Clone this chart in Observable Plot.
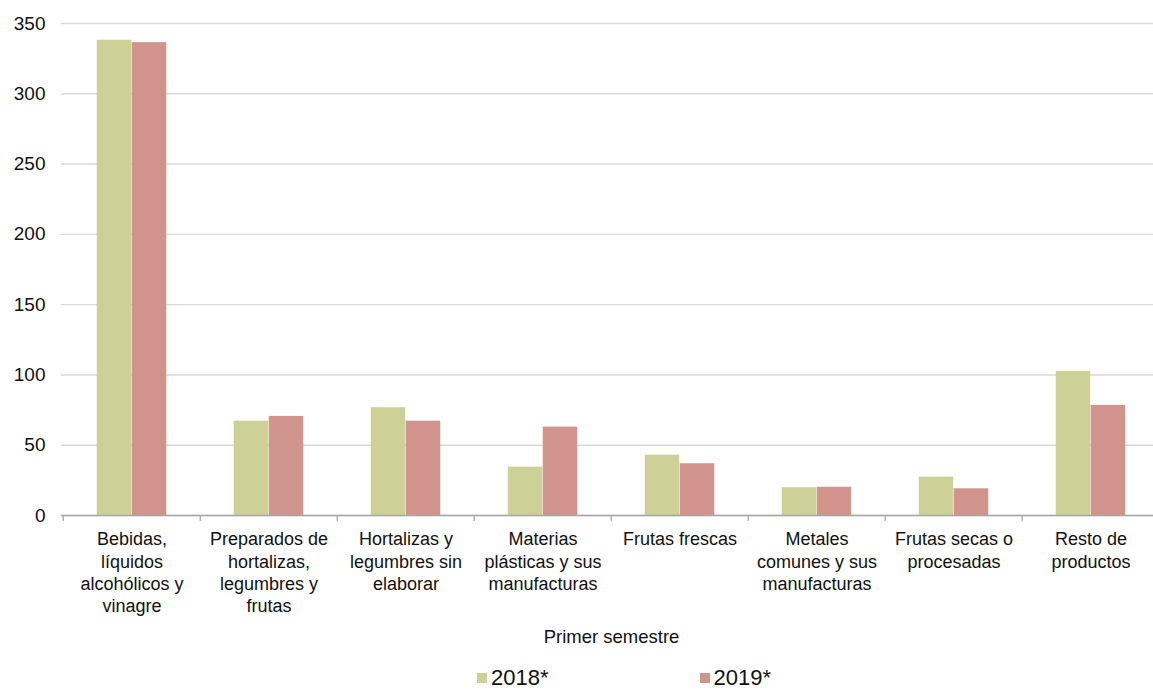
<!DOCTYPE html>
<html>
<head>
<meta charset="utf-8">
<script src="https://cdn.jsdelivr.net/npm/d3@7"></script>
<script src="https://cdn.jsdelivr.net/npm/@observablehq/plot@0.6"></script>
<style>
  html, body { margin: 0; padding: 0; background: #fff; overflow: hidden; }
  #wrap { position: relative; width: 1153px; height: 691px; font-family: "Liberation Sans", Arial, sans-serif; }
  #legend { position: absolute; left: 477px; top: 667px; height: 22px; }
  #legend .lg-swatches-wrap { min-height: 0 !important; height: 22px; align-items: center; flex-wrap: nowrap; }
  #legend .lg-swatch { margin-right: 0 !important; font-size: 22px; line-height: 22px; color: #111; }
  #legend .lg-swatch:not(:last-child) { margin-right: 151px !important; }
  #legend .lg-swatch > svg { margin-right: 4px !important; }
</style>
</head>
<body>
<div id="wrap">
  <div id="chart"></div>
  <div id="legend"></div>
</div>
<script>
const categories = [
  "Bebidas,\nlíquidos\nalcohólicos y\nvinagre",
  "Preparados de\nhortalizas,\nlegumbres y\nfrutas",
  "Hortalizas y\nlegumbres sin\nelaborar",
  "Materias\nplásticas y sus\nmanufacturas",
  "Frutas frescas",
  "Metales\ncomunes y sus\nmanufacturas",
  "Frutas secas o\nprocesadas",
  "Resto de\nproductos"
];
const years = ["2018*", "2019*"];
const values2018 = [338.1, 67.1, 76.7, 34.4, 42.9, 19.8, 27.3, 102.5];
const values2019 = [336.4, 70.5, 67.1, 62.9, 36.8, 20.1, 19.0, 78.3];
const yTicks = [0, 50, 100, 150, 200, 250, 300, 350];
const colors = ["#cdd198", "#d0948c"];
const axisTitle = "Primer semestre";

const rows2018 = categories.map((c, i) => ({cat: c, year: years[0], v: values2018[i]}));
const rows2019 = categories.map((c, i) => ({cat: c, year: years[1], v: values2019[i]}));

const W = 1153, H = 660, ML = 61, MR = -8, MT = 23, MB = H - 515;
const bw = (W - ML - MR) / categories.length;
const barW = 35;

const chart = Plot.plot({
  width: W,
  height: H,
  marginLeft: ML,
  marginRight: MR,
  marginTop: MT,
  marginBottom: MB,
  style: {fontFamily: "'Liberation Sans', Arial, sans-serif", color: "#111", background: "#fff", overflow: "hidden"},
  x: {domain: categories, padding: 0, label: null},
  y: {domain: [0, 350], label: null},
  color: {domain: years, range: colors},
  marks: [
    Plot.gridY(yTicks, {stroke: "#d9d9d9", strokeOpacity: 1, strokeWidth: 1.4}),
    Plot.barY(rows2018, {x: "cat", y: "v", fill: "year", insetLeft: bw / 2 - barW, insetRight: bw / 2}),
    Plot.barY(rows2019, {x: "cat", y: "v", fill: "year", insetLeft: bw / 2, insetRight: bw / 2 - barW}),
    Plot.ruleY([0], {stroke: "#a6a6a6", strokeWidth: 1.3}),
    Plot.axisX({text: null, tickSize: 6, dx: -bw / 2, stroke: "#a6a6a6", strokeWidth: 1.3, label: null}),
    Plot.axisX({tickSize: 0, tickPadding: 14, fontSize: 18, lineHeight: 1.24,
                label: axisTitle, labelAnchor: "center", labelOffset: 127}),
    Plot.axisY({ticks: yTicks, tickSize: 0, tickPadding: 16, fontSize: 19, label: null})
  ]
});
chart.querySelectorAll("[aria-label='x-axis label']").forEach(g => g.setAttribute("font-size", "18.5"));
document.getElementById("chart").appendChild(chart);

const legend = Plot.legend({
  color: {domain: years, range: colors},
  swatchSize: 10,
  className: "lg",
  style: {fontFamily: "'Liberation Sans', Arial, sans-serif", fontSize: "22px"}
});
document.getElementById("legend").appendChild(legend);
</script>
</body>
</html>
